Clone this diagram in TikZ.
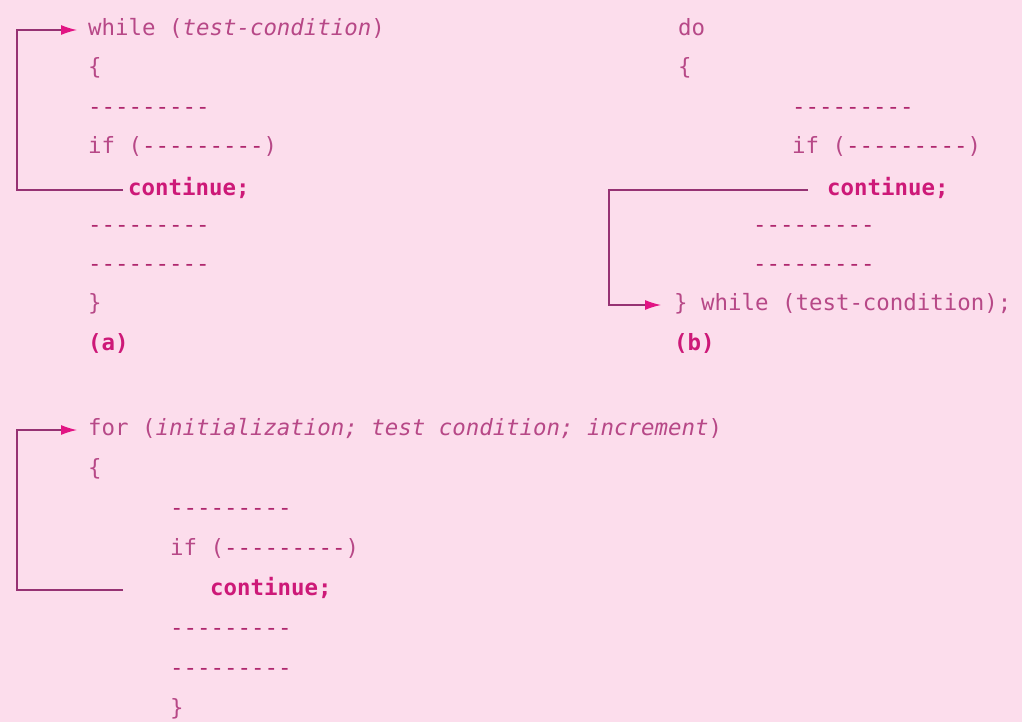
\documentclass[tikz,border=0pt]{standalone}
\usepackage{fontspec}
\setmonofont{DejaVu Sans Mono}
\usetikzlibrary{arrows.meta}
\definecolor{page}{RGB}{252, 221, 236}
\definecolor{codetext}{RGB}{183, 72, 135}
\definecolor{dashes}{RGB}{176, 40, 110}
\definecolor{keyword}{RGB}{205, 25, 120}
\definecolor{loopline}{RGB}{150, 50, 115}
\definecolor{looptip}{RGB}{226, 20, 132}

% a row of placeholder statements
\newcommand{\filler}{\textcolor{dashes}{---------}}

\tikzset{
	codeline/.style={anchor=west, inner sep=0pt, text=codetext, font=\ttfamily\fontsize{22.4}{26}\selectfont, text height=16pt, text depth=5pt},
	jump/.style={codeline, text=keyword, font=\ttfamily\bfseries\fontsize{22.4}{26}\selectfont},
	caption/.style={jump},
	back/.style={draw=loopline, line width=1.3pt, -{Latex[length=16pt, width=10pt, color=looptip]}}
}

\begin{document}
\begin{tikzpicture}[x=1pt, y=-1pt]
			\fill [page] (0, 0) rectangle (1022, 722);

			% (a) while
			\node[codeline] (whileA) at (88, 30) {while (\textit{test-condition})};
			\node[codeline] (openA) at (88, 69) {\{};
			\node[codeline] (bodyA1) at (88, 109) {\filler};
			\node[codeline] (ifA) at (88, 148) {if (\filler)};
			\node[jump] (contA) at (128, 190) {continue;};
			\node[codeline] (bodyA2) at (88, 227) {\filler};
			\node[codeline] (bodyA3) at (88, 266) {\filler};
			\node[codeline] (closeA) at (88, 305) {\}};
			\node[caption] (capA) at (88, 345) {(a)};
			\draw[back] ([xshift=-5pt]contA.west) -- ++(-106pt, 0) |- ([xshift=-11pt]whileA.west);

			% (b) do ... while
			\node[codeline] (doB) at (678, 30) {do};
			\node[codeline] (openB) at (678, 69) {\{};
			\node[codeline] (bodyB1) at (792, 109) {\filler};
			\node[codeline] (ifB) at (792, 148) {if (\filler)};
			\node[jump] (contB) at (827, 190) {continue;};
			\node[codeline] (bodyB2) at (753, 227) {\filler};
			\node[codeline] (bodyB3) at (753, 266) {\filler};
			\node[codeline] (endB) at (674, 305) {\} while (test-condition);};
			\node[caption] (capB) at (674, 345) {(b)};
			\draw[back] ([xshift=-19pt]contB.west) -- ++(-199pt, 0) |- ([xshift=-13pt]endB.west);

			% (c) for
			\node[codeline] (forC) at (88, 430) {for (\textit{initialization; test condition; increment})};
			\node[codeline] (openC) at (88, 470) {\{};
			\node[codeline] (bodyC1) at (170, 510) {\filler};
			\node[codeline] (ifC) at (170, 550) {if (\filler)};
			\node[jump] (contC) at (210, 590) {continue;};
			\node[codeline] (bodyC2) at (170, 630) {\filler};
			\node[codeline] (bodyC3) at (170, 670) {\filler};
			\node[codeline] (closeC) at (170, 710) {\}};
			\draw[back] ([xshift=-87pt]contC.west) -- ++(-106pt, 0) |- ([xshift=-11pt]forC.west);
\end{tikzpicture}
\end{document}
